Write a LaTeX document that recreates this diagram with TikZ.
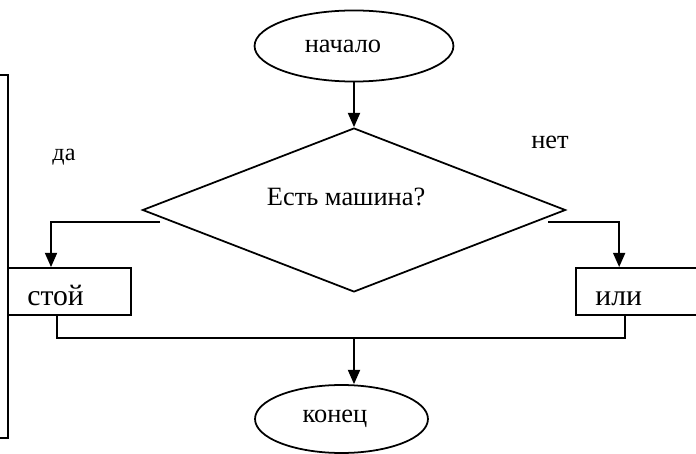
\documentclass[tikz,border=0pt]{standalone}
\usepackage{fontspec}
\setmainfont{Liberation Serif}
\usetikzlibrary{shapes.geometric, arrows.meta}

\begin{document}
\begin{tikzpicture}
    [x=0.4545pt, y=-0.4545pt,
     every node/.style={font=\fontsize{12}{14}\selectfont},
     line/.style={thick},
     flow/.style={thick, -{Triangle[length=6.5pt,width=5.5pt]}},
     terminal/.style={draw, thick, ellipse, inner sep=0pt},
     decision/.style={draw, thick, diamond, inner sep=0pt, minimum width=192.3pt, minimum height=74.5pt},
     action/.style={draw, thick, rectangle, minimum height=21.4pt, inner xsep=8.8pt, inner ysep=2pt,
                    font=\fontsize{13.5}{15}\selectfont,
                    align=left, text height=13.6pt, text depth=0.6pt}]

    \useasboundingbox (0,0) rectangle (696,454);
    \clip (0,0) rectangle (696,454);

    % frame cut off on the left
    \draw[line] (-30,75) rectangle (8,438);

    \node[terminal, minimum width=90.4pt, minimum height=32.3pt] (start) at (354,46) {\hspace*{-10pt}начало};
    \node[decision, label={[xshift=-3.6pt, yshift=5.9pt]center:Есть машина?}] (dec) at (354,210) {};
    \node[action, text width=38.3pt] (stop) at (69.5,291.5) {стой};
    \node[action, text width=46pt] (go) at (646,291.5) {или};
    \node[terminal, minimum width=78.6pt, minimum height=30.9pt] (end) at (341.5,419) {\hspace*{-6pt}конец};

    \node[font=\fontsize{11}{13}\selectfont] (yes) at (64,157) {да};
    \node (no) at (550,142) {нет};

    \coordinate (yesout) at (160,222);
    \coordinate (noout) at (548,222);
    \coordinate (merge) at (354,338);

    \draw[flow] (start) -- (dec);
    \draw[flow] (yesout) -| ([xshift=-8.4pt]stop.north);
    \draw[flow] (noout) -| ([xshift=20pt]go.north west);
    \draw[line] ([xshift=22.7pt]stop.south west) |- (merge) -| ([xshift=22.7pt]go.south west);
    \draw[flow] (merge) -- (merge |- end.north);
\end{tikzpicture}
\end{document}
